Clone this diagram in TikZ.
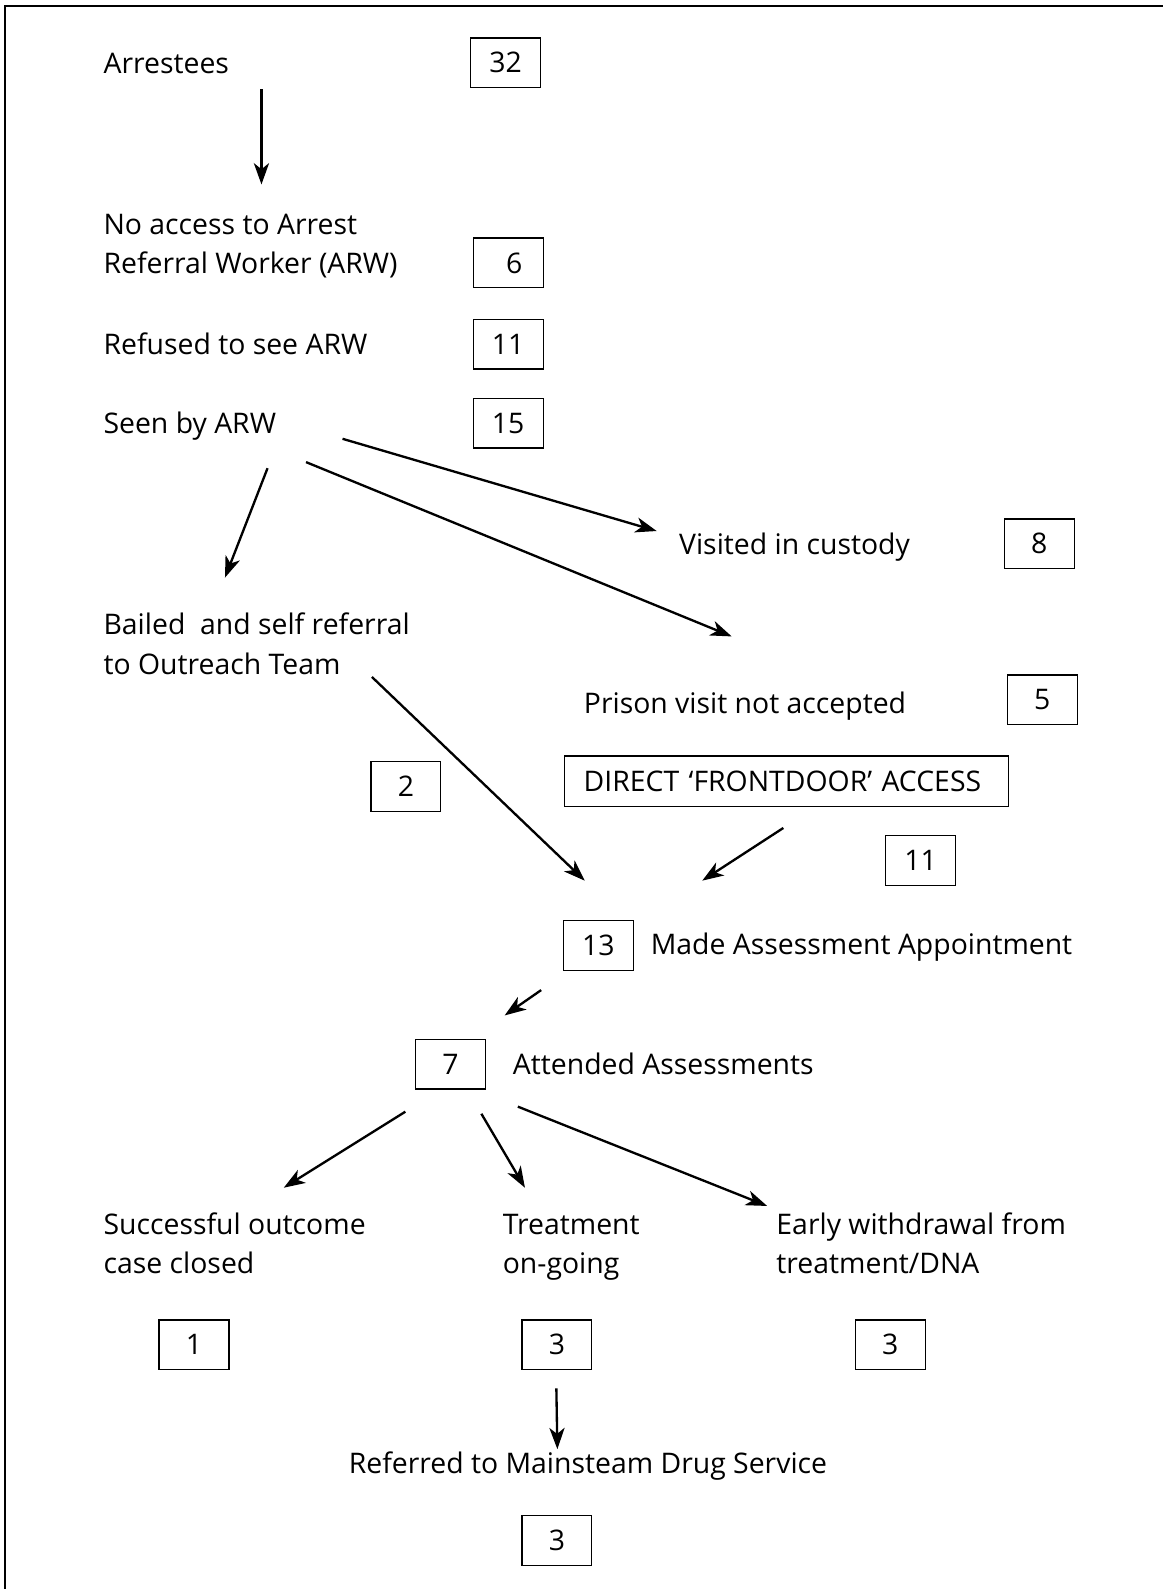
\documentclass[tikz,border=0pt]{standalone}
\usepackage{fontspec}
\setmainfont{Open Sans}
\usetikzlibrary{arrows.meta}
\begin{document}
\begin{tikzpicture}[x=1pt,y=-1pt,
  lbl/.style={anchor=base west, inner sep=0pt, font=\fontsize{28}{39}\selectfont},
  num/.style={draw, line width=1.3pt, minimum width=69pt, minimum height=49pt,
              inner sep=0pt, font=\fontsize{28}{39}\selectfont},
  flow/.style={line width=2.3pt, -{Stealth[length=21pt,width=15pt,inset=6pt]}}]
\useasboundingbox (0,0) rectangle (1148,1568);
% page frame: top and left rules only
\draw[line width=2.4pt] (5,1568) -- (5,6) -- (1148,6);

% labels
\node[lbl] (arr)   at (102,73)   {Arrestees};
\node[lbl] (noacc) at (102,231)  {No access to Arrest};
\node[lbl] (noacc2) at (102,270) {Referral Worker (ARW)};
\node[lbl] (refus) at (102,350)  {Refused to see ARW};
\node[lbl] (seen)  at (102,428)  {Seen by ARW};
\node[lbl] (visit) at (670,547)  {Visited in custody};
\node[lbl] (bail)  at (102,626)  {Bailed\ \ and self referral};
\node[lbl] (bail2) at (102,666)  {to Outreach Team};
\node[lbl] (prison) at (576,704) {Prison visit not accepted};
\node[lbl] (made)  at (642,942)  {Made Assessment Appointment};
\node[lbl] (att)   at (506,1060) {Attended Assessments};
\node[lbl] (succ)  at (102,1218) {Successful outcome};
\node[lbl] (succ2) at (102,1257) {case closed};
\node[lbl] (treat) at (496,1218) {Treatment};
\node[lbl] (treat2) at (496,1257) {on-going};
\node[lbl] (early) at (766,1218) {Early withdrawal from};
\node[lbl] (early2) at (766,1257) {treatment/DNA};
\node[lbl] (refd)  at (344,1454) {Referred to Mainsteam Drug Service};

% number boxes
\node[num] (n32)  at (499,62)    {32};
\node[num] (n6)   at (501.5,259.5) {\hspace*{12pt}6};
\node[num] (n11a) at (501.5,339.5) {11};
\node[num] (n15)  at (501.5,417.5) {15};
\node[num] (n8)   at (1025.5,536.5) {8};
\node[num] (n5)   at (1028.5,690.5) {5};
\node[num] (n2)   at (400.5,776)  {2};
\node[num, minimum width=438pt, minimum height=50pt, text width=400pt, align=left]
      (direct) at (776,771) {DIRECT ‘FRONTDOOR’ ACCESS};
\node[num] (n11b) at (908.5,849)  {11};
\node[num] (n13)  at (590.5,933)  {13};
\node[num] (n7)   at (444.5,1050) {7};
\node[num] (n1)   at (191.5,1327) {1};
\node[num] (n3a)  at (549.5,1327) {3};
\node[num] (n3b)  at (878.5,1327) {3};
\node[num] (n3c)  at (549.5,1520) {3};

% connector ends
\coordinate (a1s) at (258,88);   \coordinate (a1e) at (258,182);
\coordinate (a2s) at (264,462);  \coordinate (a2e) at (222,570);
\coordinate (a3s) at (302,456);  \coordinate (a3e) at (722,628);
\coordinate (a4s) at (338,433);  \coordinate (a4e) at (648,524);
\coordinate (a5s) at (367,668);  \coordinate (a5e) at (577,869);
\coordinate (a6s) at (773,817);  \coordinate (a6e) at (693,869);
\coordinate (a7s) at (534,977);  \coordinate (a7e) at (498,1002);
\coordinate (a8s) at (400,1097); \coordinate (a8e) at (280,1172);
\coordinate (a9s) at (475,1099); \coordinate (a9e) at (518,1172);
\coordinate (a10s) at (511,1092); \coordinate (a10e) at (757,1190);
\coordinate (a11s) at (549,1370); \coordinate (a11e) at (550,1430);

\foreach \i in {1,...,11} \draw[flow] (a\i s) -- (a\i e);
\end{tikzpicture}
\end{document}
